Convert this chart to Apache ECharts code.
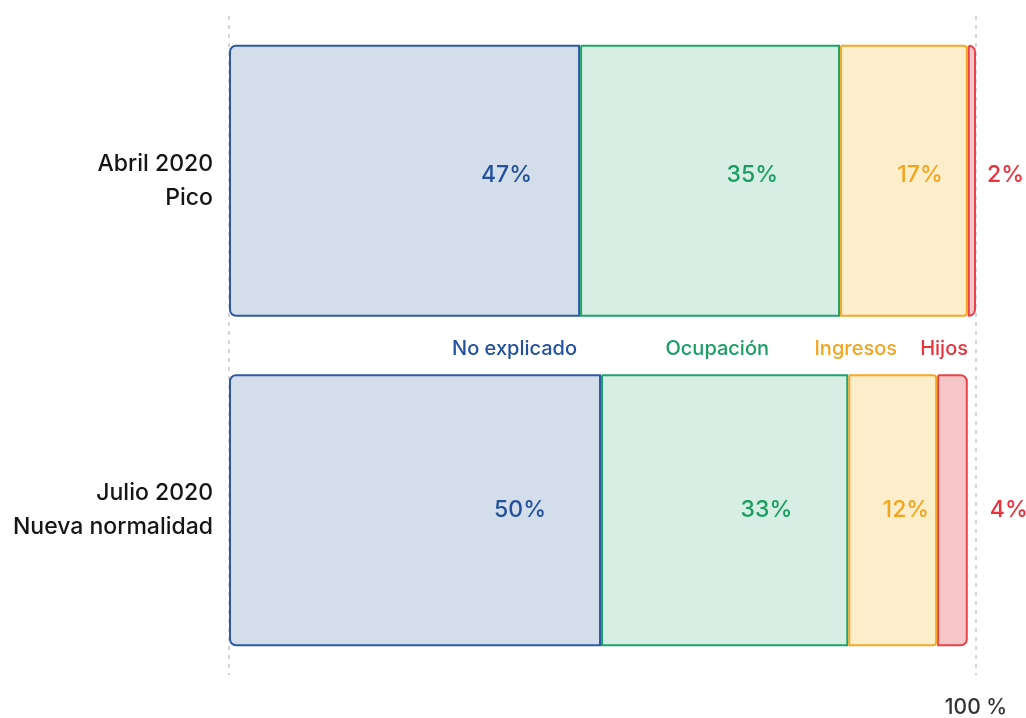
<!DOCTYPE html>
<html>
<head>
<meta charset="utf-8">
<script src="https://cdn.jsdelivr.net/npm/echarts@6/dist/echarts.min.js"></script>
<style>
  html, body { margin: 0; padding: 0; background: #fff; }
  #chart { width: 1026px; height: 718px; }
</style>
</head>
<body>
<div id="chart"></div>
<script>
// rows, top to bottom
var categories = ['Abril 2020\nPico', 'Julio 2020\nNueva normalidad'];
var seriesNames = ['No explicado', 'Ocupación', 'Ingresos', 'Hijos'];

// widths (% of the 0-100 axis)
var noExplicado = [47, 49.8];
var ocupacion = [34.8, 33.1];
var ingresos = [17.1, 11.9];
var hijos = [1.1, 4.1];

// rounded values printed on the bars
var noExplicadoPct = [47, 50];
var ocupacionPct = [35, 33];
var ingresosPct = [17, 12];
var hijosPct = [2, 4];

var xTicks = [0, 100];

var colors = {
    border: ['#2c5aa3', '#1ea36b', '#f4a824', '#e8454b'],
    fill: ['#d4deea', '#d6eee3', '#fdeecb', '#f6c6c8'],
    text: ['#23519e', '#1a9e63', '#f2a51f', '#e8343f']
};

// label placement per row
var labelOffsets = [
    [[-48, -6], [-55, 0]],
    [[-62, -6], [-56, 0]],
    [[-25, -6], [-8, 0]],
    [[11, -6], [22, 0]]
];
var radii = [[6, 0, 0, 6], [0, 0, 0, 0], [0, 3, 3, 0], [0, 6, 6, 0]];

var values = [noExplicado, ocupacion, ingresos, hijos];
var pcts = [noExplicadoPct, ocupacionPct, ingresosPct, hijosPct];

var series = seriesNames.map(function (name, s) {
    return {
        name: name,
        type: 'bar',
        stack: 'total',
        barWidth: 272,
        data: values[s].map(function (v, i) {
            return {
                value: v,
                label: {
                    offset: labelOffsets[s][i],
                    formatter: pcts[s][i] + '%'
                }
            };
        }),
        itemStyle: {
            color: colors.fill[s],
            borderColor: colors.border[s],
            borderWidth: 2,
            borderRadius: radii[s]
        },
        label: {
            show: true,
            position: s === 3 ? 'right' : 'insideRight',
            distance: 0,
            color: colors.text[s],
            fontFamily: 'Inter',
            fontWeight: 500,
            fontSize: 23
        },
        emphasis: { disabled: true }
    };
});

var legendX = [577, 769, 897, 968];

var myChart = echarts.init(document.getElementById('chart'));
myChart.setOption({
    animation: false,
    grid: { left: 229, right: 50, top: 16, bottom: 42 },
    xAxis: {
        type: 'value',
        min: xTicks[0],
        max: xTicks[1],
        interval: 100,
        axisLine: { show: false },
        axisTick: { show: false },
        axisLabel: {
            margin: 22,
            color: '#333',
            fontFamily: 'Inter',
            fontWeight: 500,
            fontSize: 21,
            formatter: function (v) { return v === 100 ? '100 %' : ''; }
        },
        splitLine: {
            show: true,
            lineStyle: { color: '#c8c8c8', type: [4, 5], width: 1.5 }
        }
    },
    yAxis: {
        type: 'category',
        inverse: true,
        data: categories,
        axisLine: { show: false },
        axisTick: { show: false },
        axisLabel: {
            margin: 16,
            color: '#151515',
            fontFamily: 'Inter',
            fontWeight: 500,
            fontSize: 23,
            lineHeight: 34,
            align: 'right'
        }
    },
    graphic: seriesNames.map(function (name, s) {
        return {
            type: 'text',
            x: legendX[s],
            y: 349,
            style: {
                text: name,
                fill: colors.text[s],
                font: '500 20px Inter',
                textAlign: 'right',
                textVerticalAlign: 'middle'
            }
        };
    }),
    series: series
});
</script>
</body>
</html>
